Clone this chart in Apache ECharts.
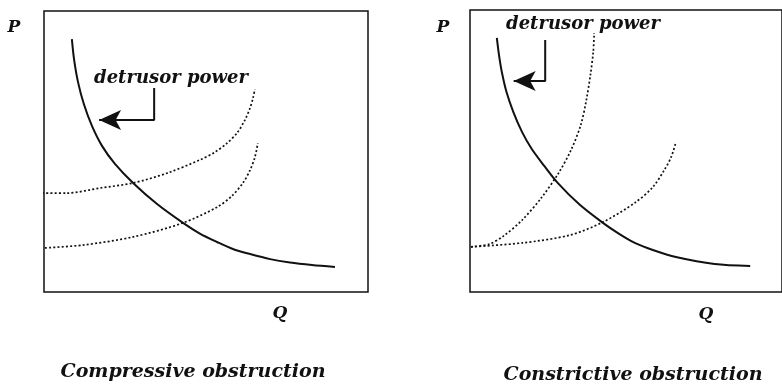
<!DOCTYPE html>
<html>
<head>
<meta charset="utf-8">
<script src="https://cdn.jsdelivr.net/npm/echarts@6/dist/echarts.min.js"></script>
<style>
html,body{margin:0;padding:0;background:#fff;}
#chart{width:782px;height:385px;}
</style>
</head>
<body>
<div id="chart"></div>
<script>
// ---- Data (Q on x, P on y, both 0..100 per panel) ----
const compressiveUrethra = [[8.6,90.0],[9.3,82.6],[10.5,74.7],[12.3,66.9],[14.8,59.1],[17.9,52.0],[21.9,45.6],[27.5,38.8],[34.9,31.3],[42.9,24.6],[48.1,20.8],[53.4,17.8],[58.3,15.3],[63.6,13.5],[69.8,11.7],[75.9,10.5],[82.7,9.6],[89.8,8.9]];
const compressivePowerHigh = [[-0.6,35.2],[7.1,35.2],[17.3,37.0],[27.5,38.8],[38.0,42.3],[48.1,47.0],[52.8,49.8],[56.5,53.0],[59.6,56.6],[62.0,61.2],[63.6,65.5],[64.5,69.0],[65.1,72.2]];
const compressivePowerLow = [[0.3,15.7],[12.0,16.7],[27.5,19.6],[42.9,24.6],[53.4,30.2],[58.0,34.2],[61.4,38.8],[63.6,43.4],[65.1,48.0],[66.0,53.0]];
const compressiveArrow = [[34.0,72.6],[34.0,61.2],[17.0,61.2]];

const constrictiveUrethra = [[8.6,90.1],[9.3,84.0],[10.2,78.0],[11.7,70.9],[13.9,63.8],[16.7,56.7],[19.8,50.7],[23.8,44.7],[28.1,38.7],[35.2,30.9],[42.6,24.5],[47.8,20.6],[52.8,17.4],[58.6,14.9],[66.0,12.4],[78.4,9.9],[89.8,9.2]];
const constrictivePowerSteep = [[0.3,16.0],[6.2,17.0],[10.8,19.9],[16.7,25.5],[22.8,33.3],[28.4,42.2],[32.4,50.4],[35.5,59.2],[37.3,68.1],[38.6,77.0],[39.5,85.1],[39.8,91.8]];
const constrictivePowerShallow = [[0.3,16.0],[16.7,17.4],[32.1,20.2],[42.6,24.8],[52.8,31.6],[58.6,37.2],[62.3,43.3],[64.5,47.9],[66.0,53.2]];
const constrictiveArrow = [[24.1,89.4],[24.1,74.8],[14.0,74.8]];

const panelTitles = ['Compressive obstruction', 'Constrictive obstruction'];
const axisNames = ['P', 'Q'];
const annotationText = 'detrusor power';

const FONT = 'DejaVu Serif';
const chart = echarts.init(document.getElementById('chart'));

function solid(data, idx) {
  return { type: 'line', xAxisIndex: idx, yAxisIndex: idx, data, smooth: 0.3, showSymbol: false, symbol: 'none', clip: false,
    lineStyle: { color: '#111', width: 2 }, silent: true };
}
function dotted(data, idx) {
  return { type: 'line', xAxisIndex: idx, yAxisIndex: idx, data, smooth: 0.3, showSymbol: false, symbol: 'none', clip: false,
    lineStyle: { color: '#111', width: 1.7, type: [2, 2.2] }, silent: true };
}
function arrow(data, idx) {
  const pts = data.map((d, i) => i === data.length - 1
    ? { value: d, symbol: 'arrow', symbolSize: [15, 22], symbolRotate: 90 }
    : { value: d, symbol: 'none' });
  return { type: 'line', xAxisIndex: idx, yAxisIndex: idx, data: pts, showSymbol: true, clip: false,
    itemStyle: { color: '#111' }, lineStyle: { color: '#111', width: 2 }, silent: true };
}

const txt = (text, x, y, size) => ({
  type: 'text', x, y,
  style: { text, font: `italic bold ${size}px "${FONT}"`, fill: '#111', align: 'center', verticalAlign: 'middle' }
});

const option = {
  animation: false,
  backgroundColor: '#fff',
  grid: [
    { left: 44, top: 11, width: 324, height: 281, show: true, borderColor: '#111', borderWidth: 1.5, backgroundColor: 'transparent' },
    { left: 470, top: 10, width: 324, height: 282, show: true, borderColor: '#111', borderWidth: 1.5, backgroundColor: 'transparent' }
  ],
  xAxis: [0, 1].map(i => ({ type: 'value', gridIndex: i, min: 0, max: 100, show: false })),
  yAxis: [0, 1].map(i => ({ type: 'value', gridIndex: i, min: 0, max: 100, show: false })),
  series: [
    solid(compressiveUrethra, 0), dotted(compressivePowerHigh, 0), dotted(compressivePowerLow, 0), arrow(compressiveArrow, 0),
    solid(constrictiveUrethra, 1), dotted(constrictivePowerSteep, 1), dotted(constrictivePowerShallow, 1), arrow(constrictiveArrow, 1)
  ],
  graphic: [
    txt(axisNames[0], 14, 28, 17),
    txt(axisNames[0], 443, 28, 17),
    txt(axisNames[1], 280, 314, 17),
    txt(axisNames[1], 706, 315, 17),
    txt(annotationText, 171, 78, 18),
    txt(annotationText, 583, 24, 18),
    txt(panelTitles[0], 193, 372, 19),
    txt(panelTitles[1], 633, 375, 19)
  ]
};
chart.setOption(option);
</script>
</body>
</html>
